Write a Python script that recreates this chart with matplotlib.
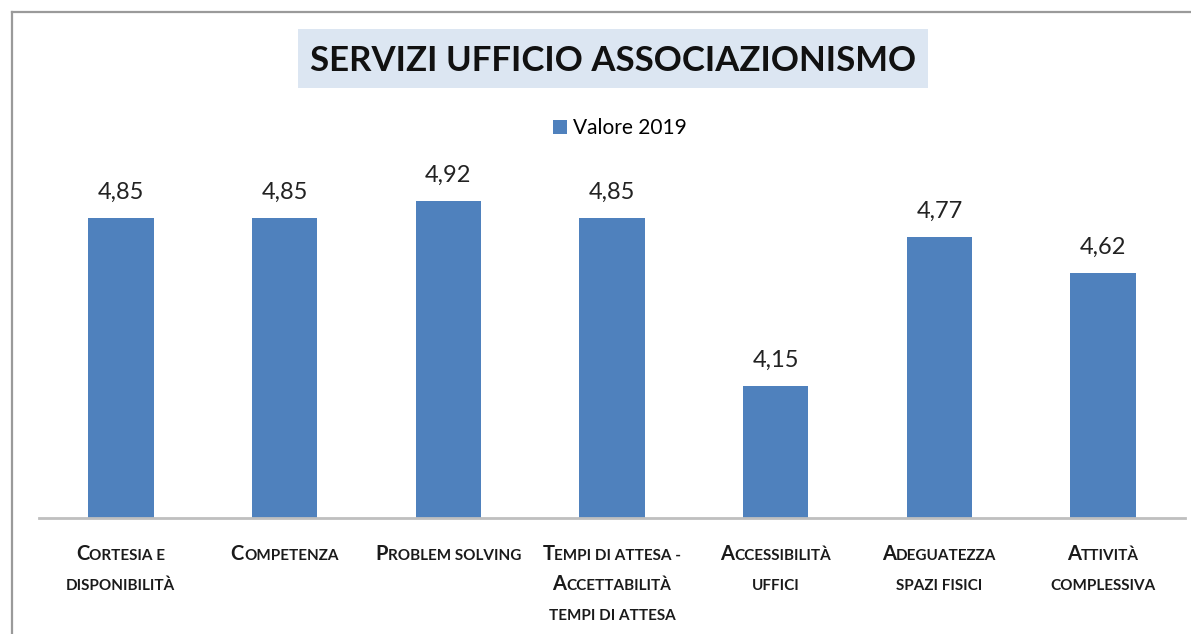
import matplotlib
matplotlib.use("Agg")
import matplotlib.pyplot as plt
from matplotlib.patches import Rectangle
from matplotlib.lines import Line2D

# data
categories = ["Cortesia e\ndisponibilità", "Competenza", "Problem solving",
              "Tempi di attesa -\nAccettabilità\ntempi di attesa",
              "Accessibilità\nuffici", "Adeguatezza\nspazi fisici",
              "Attività\ncomplessiva"]
values_2019 = [4.85, 4.85, 4.92, 4.85, 4.15, 4.77, 4.62]
series_name = "Valore 2019"
title = "SERVIZI UFFICIO ASSOCIAZIONISMO"

W, H = 1191, 634
FONT = "Lato"
BLUE = "#4F81BD"

plt.rcParams['font.family'] = [FONT, 'DejaVu Sans']

fig = plt.figure(figsize=(W / 100, H / 100), dpi=100)
fig.patch.set_facecolor("white")

def fx(px):
    return px / W

def fy(py):
    return 1 - py / H

# outer frame (left and top edges visible)
fig.add_artist(Line2D([fx(12), fx(12)], [fy(12), 0], color="#9A9A9A", lw=1.6))
fig.add_artist(Line2D([fx(12), 1], [fy(12), fy(12)], color="#9A9A9A", lw=1.6))

# title with shaded box
fig.add_artist(Rectangle((fx(298), fy(88)), fx(928) - fx(298), fy(29) - fy(88),
                         transform=fig.transFigure, facecolor="#DCE6F2", edgecolor="none"))
fig.text(fx(613), fy(61), title, ha="center", va="center", fontsize=25,
         fontweight="bold", color="#111111")

ax = fig.add_axes([fx(39), 116 / H, fx(1185) - fx(39), 360 / H])
x = list(range(len(categories)))
bars = ax.bar(x, values_2019, width=0.40, color=BLUE, label=series_name, zorder=2)
ax.set_xlim(-0.5, len(categories) - 0.5)
ax.set_ylim(3.6, 5.1)
for s in ["top", "right", "left"]:
    ax.spines[s].set_visible(False)
ax.spines["bottom"].set_color("#BFBFBF")
ax.spines["bottom"].set_linewidth(2)
ax.set_yticks([])
ax.set_xticks([])

for b, v in zip(bars, values_2019):
    ax.annotate(f"{v:.2f}".replace(".", ","), (b.get_x() + b.get_width() / 2, v),
                xytext=(0, 14), textcoords="offset points", ha="center",
                va="baseline", fontsize=17, color="#222222")

ax.legend(loc="center", bbox_to_anchor=(fx(620), fy(128)), bbox_transform=fig.transFigure,
          frameon=False, fontsize=15, handlelength=0.65, handleheight=0.65,
          handletextpad=0.3)

# category labels in small caps
renderer = fig.canvas.get_renderer()
BIG, SMALL = 14.5, 11

def measure(s, size):
    t = fig.text(0, 0, "x" + s + "x", fontsize=size, fontweight="bold")
    r = fig.text(0, 0, "xx", fontsize=size, fontweight="bold")
    w = t.get_window_extent(renderer).width - r.get_window_extent(renderer).width
    t.remove()
    r.remove()
    return w

def small_caps(line):
    runs = []
    for ch in line:
        big = ch.isupper() or ch.isdigit()
        txt = ch if big else ch.upper()
        if runs and runs[-1][1] == big:
            runs[-1][0] += txt
        else:
            runs.append([txt, big])
    return runs

for i, label in enumerate(categories):
    cx = ax.transData.transform((i, 3.6))[0]
    for j, line in enumerate(label.split("\n")):
        runs = small_caps(line)
        widths = [measure(t, BIG if big else SMALL) for t, big in runs]
        start = cx - sum(widths) / 2
        base = 560 + j * 30
        for (t, big), w in zip(runs, widths):
            fig.text(fx(start), fy(base), t, fontsize=BIG if big else SMALL,
                     fontweight="bold", va="baseline", ha="left", color="#1A1A1A")
            start += w

fig.savefig("out.png", dpi=100)
